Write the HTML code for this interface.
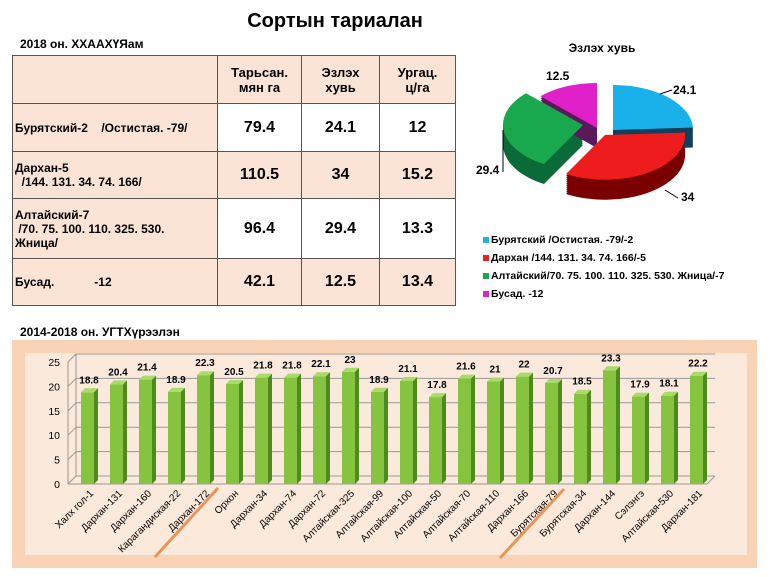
<!DOCTYPE html>
<html><head><meta charset="utf-8"><style>
body{margin:0;width:770px;height:577px;background:#fff;font-family:"Liberation Sans",sans-serif;overflow:hidden;position:relative}
.t{position:absolute;font-weight:bold}
table{position:absolute;left:12px;top:55px;border-collapse:collapse;font-family:"Liberation Sans",sans-serif}
td{border:1.5px solid #555;padding:0;font-weight:bold;text-align:center;font-size:16px}
td.n{text-align:left;font-size:12px;padding-left:2px}
.p{background:#fbe4d5}
</style></head><body>
<div class="t" style="left:0;width:670px;text-align:center;top:10px;font-size:20px">Сортын тариалан</div>
<div class="t" style="left:20px;top:37px;font-size:12px">2018 он. ХХААХҮЯам</div>
<table>
<tr style="height:48px"><td class="p" style="width:204px"></td><td class="p" style="width:83px;font-size:13px">Тарьсан.<br>мян га</td><td class="p" style="width:77px;font-size:13px">Эзлэх<br>хувь</td><td class="p" style="width:75px;font-size:13px">Ургац.<br>ц/га</td></tr>
<tr style="height:48px"><td class="n p">Бурятский-2&nbsp;&nbsp;&nbsp; /Остистая. -79/</td><td>79.4</td><td>24.1</td><td>12</td></tr>
<tr style="height:47px"><td class="n p">Дархан-5<br>&nbsp; /144. 131. 34. 74. 166/</td><td class="p">110.5</td><td class="p">34</td><td class="p">15.2</td></tr>
<tr style="height:60px"><td class="n p">Алтайский-7<br>&nbsp;/70. 75. 100. 110. 325. 530.<br>Жница/</td><td>96.4</td><td>29.4</td><td>13.3</td></tr>
<tr style="height:47px"><td class="n p">Бусад.&nbsp;&nbsp;&nbsp;&nbsp;&nbsp;&nbsp;&nbsp;&nbsp;&nbsp;&nbsp;&nbsp; -12</td><td class="p">42.1</td><td class="p">12.5</td><td class="p">13.4</td></tr>
</table>
<div class="t" style="left:20px;top:325px;font-size:12px">2014-2018 он. УГТХүрээлэн</div>

<svg width="770" height="577" style="position:absolute;left:0;top:0" font-family="Liberation Sans, sans-serif">
<defs>
<path id="pb" d="M613,130 L613,85 A80,45 0 0 1 693,127.5 Z"/>
<path id="pr" d="M605,135 L685,132.5 A80,45 0 0 1 566,174 Z"/>
<path id="pg" d="M583,125 L544,164 A80,45 0 0 1 526,93.2 Z"/>
<path id="pm" d="M597,128 L540.4,96.2 A80,45 0 0 1 597,83 Z"/>
</defs>
<text x="602" y="52" text-anchor="middle" font-size="12" font-weight="bold">Эзлэх хувь</text>
<g fill="#7a0000"><use href="#pr" y="20"/><use href="#pr" y="18"/><use href="#pr" y="16"/><use href="#pr" y="14"/><use href="#pr" y="12"/><use href="#pr" y="10"/><use href="#pr" y="8"/><use href="#pr" y="6"/><use href="#pr" y="4"/><use href="#pr" y="2"/></g>
<g fill="#0b6b38"><use href="#pg" y="20"/><use href="#pg" y="18"/><use href="#pg" y="16"/><use href="#pg" y="14"/><use href="#pg" y="12"/><use href="#pg" y="10"/><use href="#pg" y="8"/><use href="#pg" y="6"/><use href="#pg" y="4"/><use href="#pg" y="2"/></g>
<g fill="#123f5a"><use href="#pb" y="20"/><use href="#pb" y="18"/><use href="#pb" y="16"/><use href="#pb" y="14"/><use href="#pb" y="12"/><use href="#pb" y="10"/><use href="#pb" y="8"/><use href="#pb" y="6"/><use href="#pb" y="4"/><use href="#pb" y="2"/></g>
<g fill="#5a1a5a"><use href="#pm" y="20"/><use href="#pm" y="18"/><use href="#pm" y="16"/><use href="#pm" y="14"/><use href="#pm" y="12"/><use href="#pm" y="10"/><use href="#pm" y="8"/><use href="#pm" y="6"/><use href="#pm" y="4"/><use href="#pm" y="2"/></g>
<use href="#pr" fill="#ee1c1c"/><use href="#pg" fill="#1aa84f"/><use href="#pb" fill="#1ab0ea"/><use href="#pm" fill="#e020c8"/>
<g font-size="12" font-weight="bold">
<text x="673" y="94">24.1</text><path d="M660,94 L672,90" stroke="#000" fill="none"/>
<text x="681" y="201">34</text><path d="M665,190 L678,198" stroke="#000" fill="none"/>
<text x="476" y="174">29.4</text><path d="M503,172 L503,130" stroke="#000" fill="none"/>
<text x="546" y="80">12.5</text>
</g>
<g font-size="10.5" font-weight="bold">
<rect x="483" y="237" width="6" height="6" fill="#1ab0ea"/><text x="491" y="243">Бурятский /Остистая. -79/-2</text>
<rect x="483" y="255" width="6" height="6" fill="#ee1c1c"/><text x="491" y="261">Дархан /144. 131. 34. 74. 166/-5</text>
<rect x="483" y="273" width="6" height="6" fill="#1aa84f"/><text x="491" y="279">Алтайский/70. 75. 100. 110. 325. 530. Жница/-7</text>
<rect x="483" y="291" width="6" height="6" fill="#e020c8"/><text x="491" y="297">Бусад. -12</text>
</g>

<rect x="12" y="340" width="745" height="228" fill="#f9d3b6"/>
<rect x="25" y="353" width="722" height="202" fill="#fbe9dc"/>
<g stroke="#999" fill="none">
<path d="M68,484 L76,476 L715,476"/><path d="M68,459.6 L76,451.6 L715,451.6"/><path d="M68,435.2 L76,427.2 L715,427.2"/><path d="M68,410.8 L76,402.8 L715,402.8"/><path d="M68,386.4 L76,378.4 L715,378.4"/><path d="M68,362 L76,354 L715,354"/>
<path d="M68,484 L68,362 M76,354 L76,476 M68,484 L707,484 L715,476"/>
</g>
<g font-size="10.5" text-anchor="end">
<text x="60" y="488">0</text><text x="60" y="463.6">5</text><text x="60" y="439.2">10</text><text x="60" y="414.8">15</text><text x="60" y="390.4">20</text><text x="60" y="366">25</text>
</g>
<defs>
<g id="lbl"></g>
</defs>
<g font-size="10" font-weight="bold" text-anchor="middle">
<g transform="translate(88,392.3)"><rect x="-7" width="13" height="91.7" fill="#86c440"/><path d="M6,0 L10,-4 L10,87.7 L6,91.7Z" fill="#4f8a1e"/><path d="M-7,0 L-3,-4 L10,-4 L6,0Z" fill="#a8dc6a"/><text x="1" y="-9">18.8</text></g>
<g transform="translate(117,384.4)"><rect x="-7" width="13" height="99.6" fill="#86c440"/><path d="M6,0 L10,-4 L10,95.6 L6,99.6Z" fill="#4f8a1e"/><path d="M-7,0 L-3,-4 L10,-4 L6,0Z" fill="#a8dc6a"/><text x="1" y="-9">20.4</text></g>
<g transform="translate(146,379.6)"><rect x="-7" width="13" height="104.4" fill="#86c440"/><path d="M6,0 L10,-4 L10,100.4 L6,104.4Z" fill="#4f8a1e"/><path d="M-7,0 L-3,-4 L10,-4 L6,0Z" fill="#a8dc6a"/><text x="1" y="-9">21.4</text></g>
<g transform="translate(175,391.8)"><rect x="-7" width="13" height="92.2" fill="#86c440"/><path d="M6,0 L10,-4 L10,88.2 L6,92.2Z" fill="#4f8a1e"/><path d="M-7,0 L-3,-4 L10,-4 L6,0Z" fill="#a8dc6a"/><text x="1" y="-9">18.9</text></g>
<g transform="translate(204,375.2)"><rect x="-7" width="13" height="108.8" fill="#86c440"/><path d="M6,0 L10,-4 L10,104.8 L6,108.8Z" fill="#4f8a1e"/><path d="M-7,0 L-3,-4 L10,-4 L6,0Z" fill="#a8dc6a"/><text x="1" y="-9">22.3</text></g>
<g transform="translate(233,384)"><rect x="-7" width="13" height="100" fill="#86c440"/><path d="M6,0 L10,-4 L10,96 L6,100Z" fill="#4f8a1e"/><path d="M-7,0 L-3,-4 L10,-4 L6,0Z" fill="#a8dc6a"/><text x="1" y="-9">20.5</text></g>
<g transform="translate(262,377.6)"><rect x="-7" width="13" height="106.4" fill="#86c440"/><path d="M6,0 L10,-4 L10,102.4 L6,106.4Z" fill="#4f8a1e"/><path d="M-7,0 L-3,-4 L10,-4 L6,0Z" fill="#a8dc6a"/><text x="1" y="-9">21.8</text></g>
<g transform="translate(291,377.6)"><rect x="-7" width="13" height="106.4" fill="#86c440"/><path d="M6,0 L10,-4 L10,102.4 L6,106.4Z" fill="#4f8a1e"/><path d="M-7,0 L-3,-4 L10,-4 L6,0Z" fill="#a8dc6a"/><text x="1" y="-9">21.8</text></g>
<g transform="translate(320,376.2)"><rect x="-7" width="13" height="107.8" fill="#86c440"/><path d="M6,0 L10,-4 L10,103.8 L6,107.8Z" fill="#4f8a1e"/><path d="M-7,0 L-3,-4 L10,-4 L6,0Z" fill="#a8dc6a"/><text x="1" y="-9">22.1</text></g>
<g transform="translate(349,371.8)"><rect x="-7" width="13" height="112.2" fill="#86c440"/><path d="M6,0 L10,-4 L10,108.2 L6,112.2Z" fill="#4f8a1e"/><path d="M-7,0 L-3,-4 L10,-4 L6,0Z" fill="#a8dc6a"/><text x="1" y="-9">23</text></g>
<g transform="translate(378,391.8)"><rect x="-7" width="13" height="92.2" fill="#86c440"/><path d="M6,0 L10,-4 L10,88.2 L6,92.2Z" fill="#4f8a1e"/><path d="M-7,0 L-3,-4 L10,-4 L6,0Z" fill="#a8dc6a"/><text x="1" y="-9">18.9</text></g>
<g transform="translate(407,381)"><rect x="-7" width="13" height="103" fill="#86c440"/><path d="M6,0 L10,-4 L10,99 L6,103Z" fill="#4f8a1e"/><path d="M-7,0 L-3,-4 L10,-4 L6,0Z" fill="#a8dc6a"/><text x="1" y="-9">21.1</text></g>
<g transform="translate(436,397.1)"><rect x="-7" width="13" height="86.9" fill="#86c440"/><path d="M6,0 L10,-4 L10,82.9 L6,86.9Z" fill="#4f8a1e"/><path d="M-7,0 L-3,-4 L10,-4 L6,0Z" fill="#a8dc6a"/><text x="1" y="-9">17.8</text></g>
<g transform="translate(465,378.6)"><rect x="-7" width="13" height="105.4" fill="#86c440"/><path d="M6,0 L10,-4 L10,101.4 L6,105.4Z" fill="#4f8a1e"/><path d="M-7,0 L-3,-4 L10,-4 L6,0Z" fill="#a8dc6a"/><text x="1" y="-9">21.6</text></g>
<g transform="translate(494,381.5)"><rect x="-7" width="13" height="102.5" fill="#86c440"/><path d="M6,0 L10,-4 L10,98.5 L6,102.5Z" fill="#4f8a1e"/><path d="M-7,0 L-3,-4 L10,-4 L6,0Z" fill="#a8dc6a"/><text x="1" y="-9">21</text></g>
<g transform="translate(523,376.6)"><rect x="-7" width="13" height="107.4" fill="#86c440"/><path d="M6,0 L10,-4 L10,103.4 L6,107.4Z" fill="#4f8a1e"/><path d="M-7,0 L-3,-4 L10,-4 L6,0Z" fill="#a8dc6a"/><text x="1" y="-9">22</text></g>
<g transform="translate(552,383)"><rect x="-7" width="13" height="101" fill="#86c440"/><path d="M6,0 L10,-4 L10,97 L6,101Z" fill="#4f8a1e"/><path d="M-7,0 L-3,-4 L10,-4 L6,0Z" fill="#a8dc6a"/><text x="1" y="-9">20.7</text></g>
<g transform="translate(581,393.7)"><rect x="-7" width="13" height="90.3" fill="#86c440"/><path d="M6,0 L10,-4 L10,86.3 L6,90.3Z" fill="#4f8a1e"/><path d="M-7,0 L-3,-4 L10,-4 L6,0Z" fill="#a8dc6a"/><text x="1" y="-9">18.5</text></g>
<g transform="translate(610,370.3)"><rect x="-7" width="13" height="113.7" fill="#86c440"/><path d="M6,0 L10,-4 L10,109.7 L6,113.7Z" fill="#4f8a1e"/><path d="M-7,0 L-3,-4 L10,-4 L6,0Z" fill="#a8dc6a"/><text x="1" y="-9">23.3</text></g>
<g transform="translate(639,396.6)"><rect x="-7" width="13" height="87.4" fill="#86c440"/><path d="M6,0 L10,-4 L10,83.4 L6,87.4Z" fill="#4f8a1e"/><path d="M-7,0 L-3,-4 L10,-4 L6,0Z" fill="#a8dc6a"/><text x="1" y="-9">17.9</text></g>
<g transform="translate(668,395.7)"><rect x="-7" width="13" height="88.3" fill="#86c440"/><path d="M6,0 L10,-4 L10,84.3 L6,88.3Z" fill="#4f8a1e"/><path d="M-7,0 L-3,-4 L10,-4 L6,0Z" fill="#a8dc6a"/><text x="1" y="-9">18.1</text></g>
<g transform="translate(697,375.7)"><rect x="-7" width="13" height="108.3" fill="#86c440"/><path d="M6,0 L10,-4 L10,104.3 L6,108.3Z" fill="#4f8a1e"/><path d="M-7,0 L-3,-4 L10,-4 L6,0Z" fill="#a8dc6a"/><text x="1" y="-9">22.2</text></g>
</g>
<g font-size="10" text-anchor="end">
<text transform="translate(94,494) rotate(-45)">Халх гол-1</text>
<text transform="translate(123,494) rotate(-45)">Дархан-131</text>
<text transform="translate(152,494) rotate(-45)">Дархан-160</text>
<text transform="translate(181,494) rotate(-45)">Карагандиская-22</text>
<text transform="translate(210,494) rotate(-45)">Дархан-172</text>
<text transform="translate(239,494) rotate(-45)">Орхон</text>
<text transform="translate(268,494) rotate(-45)">Дархан-34</text>
<text transform="translate(297,494) rotate(-45)">Дархан-74</text>
<text transform="translate(326,494) rotate(-45)">Дархан-72</text>
<text transform="translate(355,494) rotate(-45)">Алтайская-325</text>
<text transform="translate(384,494) rotate(-45)">Алтайская-99</text>
<text transform="translate(413,494) rotate(-45)">Алтайская-100</text>
<text transform="translate(442,494) rotate(-45)">Алтайская-50</text>
<text transform="translate(471,494) rotate(-45)">Алтайская-70</text>
<text transform="translate(500,494) rotate(-45)">Алтайская-110</text>
<text transform="translate(529,494) rotate(-45)">Дархан-166</text>
<text transform="translate(558,494) rotate(-45)">Бурятская-79</text>
<text transform="translate(587,494) rotate(-45)">Бурятская-34</text>
<text transform="translate(616,494) rotate(-45)">Дархан-144</text>
<text transform="translate(645,494) rotate(-45)">Сэлэнгэ</text>
<text transform="translate(674,494) rotate(-45)">Алтайская-530</text>
<text transform="translate(703,494) rotate(-45)">Дархан-181</text>
</g>
<path d="M218,488 L155,557" stroke="#e8955a" stroke-width="3"/>
<path d="M564,489 L500,558" stroke="#e8955a" stroke-width="3"/>
</svg>
</body></html>
